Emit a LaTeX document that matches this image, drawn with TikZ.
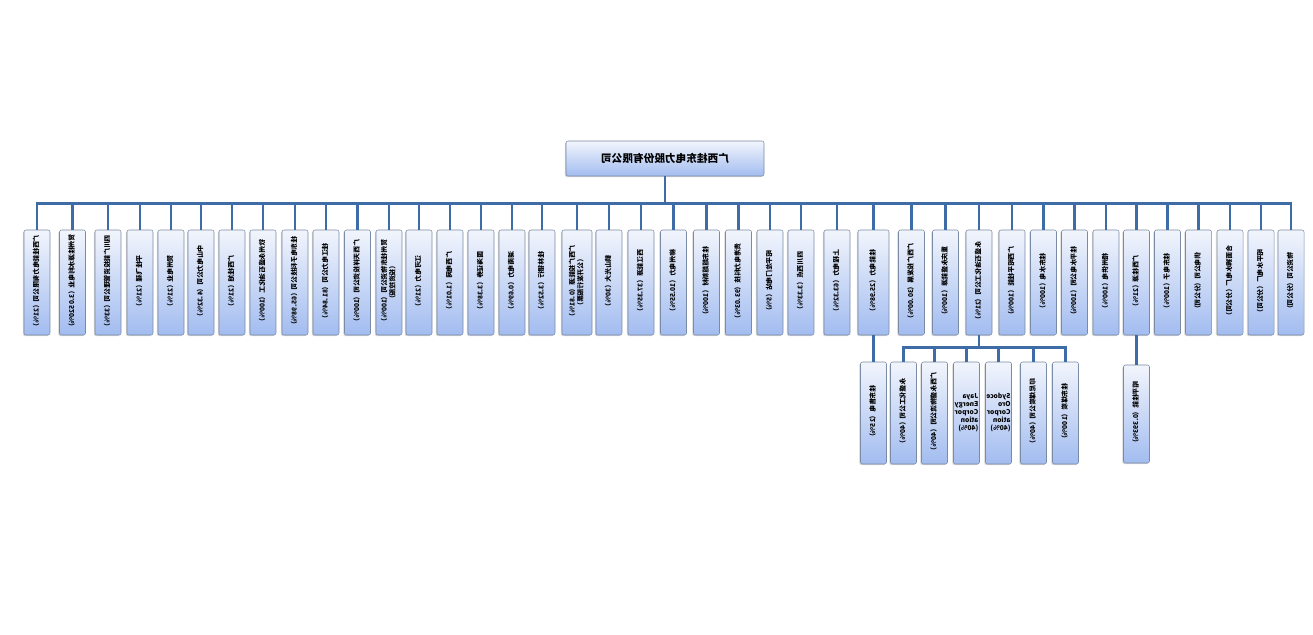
\documentclass[tikz,border=0pt]{standalone}
\usepackage{fontspec}
\setmainfont{Noto Sans CJK SC}
\usepackage{graphicx}
\usepackage{tikz}
\usetikzlibrary{shadows}

\definecolor{boxtop}{HTML}{F2F5FC}
\definecolor{boxbot}{HTML}{A2BCF0}
\definecolor{boxline}{HTML}{7A8BA5}
\definecolor{linkblue}{HTML}{3D6CA6}

% mirrored labels, as in the chart
\newcommand\vtext[1]{\rotatebox{90}{\reflectbox{\begin{tabular}{@{}c@{}}#1\end{tabular}}}}
\newcommand\htext[1]{\reflectbox{\begin{tabular}{@{}l@{}}#1\end{tabular}}}

\begin{document}
\begin{tikzpicture}[
        x=0.75pt, y=-0.75pt,
        font=\fontsize{5}{6}\selectfont\bfseries,
        orgbox/.style={draw=boxline, rounded corners=1.5pt, top color=boxtop,
            bottom color=boxbot, inner sep=0pt, minimum width=19.5pt,
            minimum height=78.75pt,
            drop shadow={shadow xshift=-0.8pt, shadow yshift=-0.8pt, opacity=0.35}},
        wide/.style={minimum width=22.5pt},
        subbox/.style={orgbox, minimum height=76.5pt},
        link/.style={draw=linkblue, line width=2.2pt},
    ]
        \useasboundingbox (0,0) rectangle (1313,635);

        % company
        \node[orgbox, minimum width=148.5pt, minimum height=26.25pt,
            font=\fontsize{8}{10}\selectfont\bfseries] (root) at (665,158.5)
            {\reflectbox{广西桂东电力股份有限公司}};
        \coordinate (bus) at ([yshift=-20.25pt]root.south);

        % first level
        \node[orgbox] (b1) at (37,282.5) {\vtext{广西桂能电力有限公司（21\%）}};
        \node[orgbox] (b2) at (72.5,282.5) {\vtext{贺州桂源水利电业（3.0520\%）}};
        \node[orgbox] (b3) at (108,282.5) {\vtext{四川广能投资管理公司（33\%）}};
        \node[orgbox] (b4) at (140,282.5) {\vtext{平桂飞碟（21\%）}};
        \node[orgbox] (b5) at (171,282.5) {\vtext{贺州电业（21\%）}};
        \node[orgbox] (b6) at (201,282.5) {\vtext{中山电力公司（4.32\%）}};
        \node[orgbox] (b7) at (232,282.5) {\vtext{广西桂旭（21\%）}};
        \node[orgbox] (b8) at (263,282.5) {\vtext{钦州永盛石油化工（100\%）}};
        \node[orgbox] (b9) at (295,282.5) {\vtext{桂东电子科技公司（65.98\%）}};
        \node[orgbox] (b10) at (326,282.5) {\vtext{桂江电力公司（81.84\%）}};
        \node[orgbox] (b11) at (357.5,282.5) {\vtext{广西天祥投资公司（100\%）}};
        \node[orgbox] (b12) at (389,282.5) {\vtext{贺州桂东物资公司（100\%）\\（投资控股）}};
        \node[orgbox] (b13) at (419,282.5) {\vtext{江河电力（21\%）}};
        \node[orgbox] (b14) at (450,282.5) {\vtext{广西电网（1.01\%）}};
        \node[orgbox] (b15) at (481,282.5) {\vtext{国海证券（3.38\%）}};
        \node[orgbox] (b16) at (512,282.5) {\vtext{湖南电力（0.69\%）}};
        \node[orgbox] (b17) at (542,282.5) {\vtext{桂林银行（3.52\%）}};
        \node[orgbox, wide] (b18) at (577,282.5) {\vtext{广西广投能源（0.81\%）\\（公开发行股票）}};
        \node[orgbox] (b19) at (609,282.5) {\vtext{鹤山光大（30\%）}};
        \node[orgbox] (b20) at (641,282.5) {\vtext{西江能源（37.35\%）}};
        \node[orgbox] (b21) at (673.5,282.5) {\vtext{柳州电力（10.55\%）}};
        \node[orgbox] (b22) at (706.5,282.5) {\vtext{桂东超超新材（100\%）}};
        \node[orgbox] (b23) at (738.5,282.5) {\vtext{贵港电力科技（93.03\%）}};
        \node[orgbox] (b24) at (770,282.5) {\vtext{昭平龙门电站（5\%）}};
        \node[orgbox] (b25) at (801,282.5) {\vtext{四川西点（3.33\%）}};
        \node[orgbox] (b26) at (837,282.5) {\vtext{上程电力（63.32\%）}};
        \node[orgbox, minimum width=23.25pt] (b27) at (873.5,282.5) {\vtext{桂能电力（25.98\%）}};
        \node[orgbox] (b28) at (911.5,282.5) {\vtext{广西广投发展（30.00\%）}};
        \node[orgbox] (b29) at (945.5,282.5) {\vtext{重庆永盛能源（100\%）}};
        \node[orgbox] (b30) at (979,282.5) {\vtext{永盛石油化工公司（21\%）}};
        \node[orgbox] (b31) at (1012,282.5) {\vtext{广西昭平桂能（100\%）}};
        \node[orgbox] (b32) at (1043.5,282.5) {\vtext{桂东水电（100\%）}};
        \node[orgbox] (b33) at (1074.5,282.5) {\vtext{桂平水电公司（100\%）}};
        \node[orgbox] (b34) at (1106,282.5) {\vtext{梧州供电（100\%）}};
        \node[orgbox] (b35) at (1136.5,282.5) {\vtext{广西桂源（21\%）}};
        \node[orgbox] (b36) at (1167.5,282.5) {\vtext{桂东电子（100\%）}};
        \node[orgbox] (b37) at (1198.5,282.5) {\vtext{供电公司（分公司）}};
        \node[orgbox] (b38) at (1230,282.5) {\vtext{合面狮水电厂（分公司）}};
        \node[orgbox] (b39) at (1261,282.5) {\vtext{昭平水电厂（分公司）}};
        \node[orgbox] (b40) at (1291,282.5) {\vtext{物资公司（分公司）}};

        % second level
        \node[subbox] (c1) at (873.5,413) {\vtext{桂东售电（25\%）}};
        \node[subbox] (c2) at (903.5,413) {\vtext{永盛化工公司（40\%）}};
        \node[subbox] (c3) at (934.5,413) {\vtext{广西永盛物流公司（40\%）}};
        \node[subbox] (c4) at (966.5,413) {\htext{Jaya\\Energy\\Corpor\\ation\\(40\%)}};
        \node[subbox] (c5) at (998.5,413) {\htext{Sydoce\\Oro\\Corpor\\ation\\(40\%)}};
        \node[subbox] (c6) at (1033.5,413) {\vtext{印尼煤炭公司（40\%）}};
        \node[subbox] (c7) at (1065.5,413) {\vtext{桂东煤炭（100\%）}};
        \node[subbox, minimum height=73.5pt] (c8) at (1136.5,414) {\vtext{昭平桂能（0.393\%）}};

        % tree lines
        \draw[link] (root.south) -- (bus);
        \draw[link] (bus) -| (b1.north);
        \draw[link] (bus) -| (b2.north);
        \draw[link] (bus) -| (b3.north);
        \draw[link] (bus) -| (b4.north);
        \draw[link] (bus) -| (b5.north);
        \draw[link] (bus) -| (b6.north);
        \draw[link] (bus) -| (b7.north);
        \draw[link] (bus) -| (b8.north);
        \draw[link] (bus) -| (b9.north);
        \draw[link] (bus) -| (b10.north);
        \draw[link] (bus) -| (b11.north);
        \draw[link] (bus) -| (b12.north);
        \draw[link] (bus) -| (b13.north);
        \draw[link] (bus) -| (b14.north);
        \draw[link] (bus) -| (b15.north);
        \draw[link] (bus) -| (b16.north);
        \draw[link] (bus) -| (b17.north);
        \draw[link] (bus) -| (b18.north);
        \draw[link] (bus) -| (b19.north);
        \draw[link] (bus) -| (b20.north);
        \draw[link] (bus) -| (b21.north);
        \draw[link] (bus) -| (b22.north);
        \draw[link] (bus) -| (b23.north);
        \draw[link] (bus) -| (b24.north);
        \draw[link] (bus) -| (b25.north);
        \draw[link] (bus) -| (b26.north);
        \draw[link] (bus) -| (b27.north);
        \draw[link] (bus) -| (b28.north);
        \draw[link] (bus) -| (b29.north);
        \draw[link] (bus) -| (b30.north);
        \draw[link] (bus) -| (b31.north);
        \draw[link] (bus) -| (b32.north);
        \draw[link] (bus) -| (b33.north);
        \draw[link] (bus) -| (b34.north);
        \draw[link] (bus) -| (b35.north);
        \draw[link] (bus) -| (b36.north);
        \draw[link] (bus) -| (b37.north);
        \draw[link] (bus) -| (b38.north);
        \draw[link] (bus) -| (b39.north);
        \draw[link] (bus) -| (b40.north);

        \draw[link] (b27.south) -- (c1.north);
        \draw[link] (b30.south) -- ++(0,-9pt) -| (c2.north);
        \draw[link] (b30.south) -- ++(0,-9pt) -| (c3.north);
        \draw[link] (b30.south) -- ++(0,-9pt) -| (c4.north);
        \draw[link] (b30.south) -- ++(0,-9pt) -| (c5.north);
        \draw[link] (b30.south) -- ++(0,-9pt) -| (c6.north);
        \draw[link] (b30.south) -- ++(0,-9pt) -| (c7.north);
        \draw[link] (b35.south) -- (c8.north);
    \end{tikzpicture}
\end{document}
